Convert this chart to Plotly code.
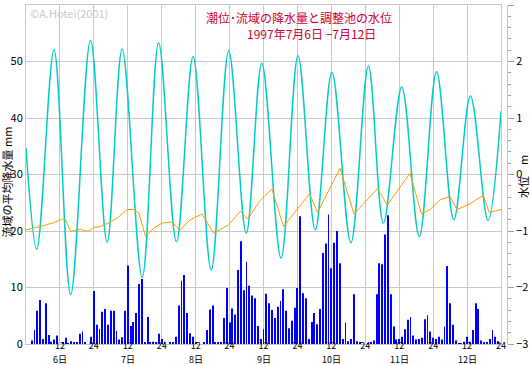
import plotly.graph_objects as go

# ---------------- data ----------------
hours = list(range(1, 169))
rain_mm = [
    0, 0.6, 2.5, 5.9, 7.8, 0.9, 7.2, 1.6, 0.4, 0.8, 1.5, 0,
    0.2, 1.1, 0.1, 0.5, 0.3, 0.2, 1.8, 2.2, 0.2, 0, 1.3, 9.4,
    3.4, 2.7, 5.7, 6.2, 3.4, 5.9, 5.9, 2.3, 0.8, 1.2, 5.9, 13.9,
    3.2, 3.9, 5.5, 10.6, 11.5, 0.3, 4.8, 0.2, 0.4, 0.2, 1.8, 0.9,
    0.4, 0, 0.2, 0.2, 1.3, 6.8, 11.2, 12.2, 5.5, 1.9, 1.3, 0.2,
    0, 0, 0.2, 2.5, 6.1, 6.8, 0.2, 0.2, 0.2, 4.6, 9.9, 3.8,
    6.3, 5.2, 13.1, 18.2, 9.5, 14.5, 10.3, 8.6, 8.1, 3.2, 0.9, 2.6,
    8.9, 7.2, 6.0, 4.6, 6.6, 7.6, 9.7, 5.9, 2.8, 4.1, 6.4, 9.9,
    22.6, 9.0, 8.1, 0.9, 3.9, 5.5, 3.5, 6.2, 16.1, 17.8, 22.9, 13.4,
    17.9, 20.0, 14.3, 0.9, 3.8, 0.5, 0.9, 8.8, 0.5, 0.2, 0, 0,
    0.1, 0.3, 0.6, 8.8, 14.3, 14.1, 19.4, 22.8, 8.8, 3.1, 0.8, 0.9,
    1.3, 2.6, 4.3, 4.8, 1.5, 0.8, 0.9, 1.1, 4.4, 5.1, 2.2, 1.1,
    0.9, 1.3, 0.8, 3.1, 13.8, 7.2, 3.4, 0.6, 0.1, 0.1, 0.4, 1.3,
    0.4, 2.5, 7.2, 6.2, 0.6, 0.2, 0.2, 0.9, 2.5, 1.3, 0.5, 0.1,
]

tide_hours = [0, 3.8, 9.9, 15.8, 22.8, 28.7, 34.0, 41.1, 46.9, 53.2, 59.1, 65.5,
              71.7, 77.9, 83.4, 90.2, 96.2, 102.3, 108.2, 114.9, 121.1, 126.4,
              132.9, 139.1, 145.2, 151.3, 157.2, 163.4, 168]
tide_m = [0.47, -1.32, 2.21, -2.13, 2.37, -1.20, 2.22, -1.82, 2.33, -1.19, 2.09, -1.69,
          2.19, -1.04, 1.97, -1.48, 2.10, -0.98, 1.81, -1.21, 1.92, -0.86,
          1.55, -1.10, 1.82, -0.80, 1.39, -0.81, 1.12]

pond_hours = [0, 5.2, 9.9, 12.8, 14.0, 15.8, 19.3, 21.1, 22.3, 24.0, 25.8, 28.7,
              32.3, 35.8, 38.1, 39.9, 42.3, 45.2, 48.1, 51.7, 54.4, 58.1, 62.3,
              66.4, 71.7, 75.8, 78.4, 82.8, 84.6, 87.0, 91.1, 100.3, 103.1,
              111.1, 116.0, 124.3, 127.8, 135.8, 139.9, 142.9, 146.4, 150.0,
              152.5, 157.0, 161.7, 163.8, 165.8, 168]
pond_m = [-0.98, -0.92, -0.85, -0.79, -0.80, -1.01, -0.97, -1.00, -1.00, -0.93, -0.93, -0.87,
          -0.77, -0.62, -0.62, -0.68, -1.10, -0.95, -0.86, -0.84, -0.99, -0.80, -0.70,
          -1.04, -0.89, -0.65, -0.79, -0.46, -0.37, -0.26, -0.92, -0.34, -0.67,
          0.11, -0.70, -0.25, -0.54, 0.02, -0.70, -0.62, -0.45, -0.39,
          -0.62, -0.52, -0.37, -0.67, -0.65, -0.62]

tick_hours = [12, 24, 36, 48, 60, 72, 84, 96, 108, 120, 132, 144, 156, 168]
tick_labels = ["12", "24"] * 7
day_hours = [12, 36, 60, 84, 108, 132, 156]
day_labels = ["6日", "7日", "8日", "9日", "10日", "11日", "12日"]

title_line1 = "潮位･流域の降水量と調整池の水位"
title_line2 = "1997年7月6日 −7月12日"
left_title = "流域の平均降水量 mm"
right_title = "水位　m"
credit = "©A.Hotei(2001)"

# ---------------- figure ----------------
FONT = "Noto Sans CJK JP"
GRID = "#C8C8C8"
W, H = 531, 365
ML, MR, MT, MB = 26, 24, 5, 21
paper_w = W - ML - MR
paper_h = H - MT - MB


def px_x(px):
    return (px - ML) / paper_w


def px_y(py):
    return (H - MB - py) / paper_h


fig = go.Figure()
fig.add_trace(go.Bar(x=hours, y=rain_mm, width=0.32,
                     marker=dict(color="#0000FF", line=dict(width=0)),
                     yaxis="y"))
fig.add_trace(go.Scatter(x=tide_hours, y=tide_m, mode="lines",
                         line=dict(color="#00CCCC", width=1.5, shape="spline"),
                         yaxis="y2"))
fig.add_trace(go.Scatter(x=pond_hours, y=pond_m, mode="lines",
                         line=dict(color="#FF9900", width=1),
                         yaxis="y2"))


def note(text, x, y, size, color, xref="paper", angle=0, xanchor="center"):
    return dict(text=text, x=x, y=y, xref=xref, yref="paper",
                xanchor=xanchor, yanchor="middle", textangle=angle,
                showarrow=False, font=dict(size=size, color=color, family=FONT))


annotations = [
    note(title_line1, px_x(299), px_y(18), 12, "#CC0033"),
    note(title_line2, px_x(311), px_y(33), 12, "#CC0033"),
    note(credit, px_x(28), px_y(13), 11, "#C8C8C8", xanchor="left"),
    note(left_title, px_x(6.5), px_y(182), 11, "black", angle=-90),
    note(right_title, px_x(523), px_y(177), 11, "black", angle=-90),
]
for h, lab in zip(day_hours, day_labels):
    annotations.append(note(lab, h, px_y(359), 9, "black", xref="x"))

fig.update_layout(
    width=W, height=H,
    margin=dict(l=ML, r=MR, t=MT, b=MB, pad=0),
    paper_bgcolor="white", plot_bgcolor="white",
    showlegend=False,
    font=dict(family=FONT, size=10, color="black"),
    annotations=annotations,
    xaxis=dict(domain=[0, 475 / paper_w], range=[0, 168],
               tickmode="array", tickvals=tick_hours, ticktext=tick_labels,
               showgrid=True, gridcolor=GRID, gridwidth=1,
               showline=True, linecolor=GRID, linewidth=1, mirror=True,
               zeroline=False, ticks="", tickfont=dict(size=9),
               ticklabelstandoff=-7,
               automargin=False, fixedrange=True),
    yaxis=dict(range=[0, 60], dtick=10, showgrid=True, gridcolor=GRID, gridwidth=1,
               showline=True, linecolor=GRID, linewidth=1, mirror=True,
               zeroline=False, ticks="", tickfont=dict(size=11),
               automargin=False),
    yaxis2=dict(range=[-3, 3], dtick=1, overlaying="y", side="right",
                anchor="free", position=1.0,
                showgrid=False, zeroline=False,
                showline=True, linecolor=GRID, linewidth=1,
                ticks="outside", ticklen=6, tickcolor="#A0A0A0",
                minor=dict(dtick=0.2, ticks="outside", ticklen=3, tickcolor="#A0A0A0"),
                tickfont=dict(size=11), automargin=False),
)

fig.write_html("out.html",
               config={"displayModeBar": False},
               post_script="document.body.style.margin='0';document.body.style.overflow='hidden';")
